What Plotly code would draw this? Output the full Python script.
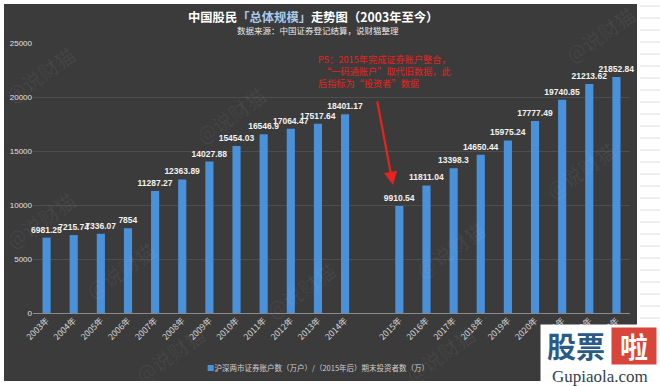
import plotly.graph_objects as go

# ---- data ----
years_before = ["2003年", "2004年", "2005年", "2006年", "2007年", "2008年",
                "2009年", "2010年", "2011年", "2012年", "2013年", "2014年"]
values_before = [6981.25, 7215.74, 7336.07, 7854, 11287.27, 12363.89,
                 14027.88, 15454.03, 16546.9, 17064.47, 17517.64, 18401.17]
years_after = ["2015年", "2016年", "2017年", "2018年", "2019年", "2020年",
               "2021年", "2022年", "2023年"]
values_after = [9910.54, 11811.04, 13398.3, 14650.44, 15975.24, 17777.49,
                19740.85, 21213.62, 21852.84]
y_ticks = [0, 5000, 10000, 15000, 20000, 25000]

categories = years_before + [" "] + years_after
values = values_before + [None] + values_after
labels = [("%.2f" % v).rstrip("0").rstrip(".") if v is not None else "" for v in values]

W, H = 660, 386
ML, MR, MT, MB = 33, 30, 43, 73
PW, PH = W - ML - MR, H - MT - MB


def px(x):
    return (x - ML) / PW


def py(y):
    return (H - MB - y) / PH


FONT = "Liberation Sans, Arial, Noto Sans CJK SC"
CJK = "Noto Sans CJK SC, Liberation Sans"
BLUE = "#4a91dc"

fig = go.Figure()
fig.add_trace(go.Bar(
    x=categories, y=values, width=0.3,
    marker=dict(color=BLUE, line=dict(width=0)),
    text=labels, textposition="outside", constraintext="none",
    textfont=dict(color="#f2f2f2", size=8.5, family=FONT, weight="bold"),
    cliponaxis=False, showlegend=False,
))

shapes = [
    dict(type="rect", xref="paper", yref="paper", layer="below",
         x0=px(4), x1=px(637), y0=py(381), y1=py(4),
         fillcolor="#3b3b3b", line=dict(width=0)),
]
for yy in range(6, 326, 12):
    shapes.append(dict(type="line", xref="paper", yref="paper", layer="below",
                       x0=px(640), x1=px(660), y0=py(yy), y1=py(yy),
                       line=dict(color="#dedede", width=1)))


def ann(x, y, text, **kw):
    d = dict(xref="paper", yref="paper", x=px(x), y=py(y), text=text,
             showarrow=False, xanchor="center", yanchor="middle")
    d.update(kw)
    return d


annotations = []
# faint watermarks
for (wx, wy) in [(40, 75), (120, 270), (230, 115), (300, 290), (450, 250),
                 (600, 35), (580, 170), (170, 355), (40, 220), (440, 355)]:
    annotations.append(ann(wx, wy, "@说财猫", textangle=-35,
                           font=dict(color="rgba(255,255,255,0.06)", size=20, family=CJK)))

annotations += [
    ann(313, 17, "<b>中国股民<span style='color:#a9cbee'>「总体规模」</span>走势图（2003年至今）</b>",
        font=dict(color="white", size=12.3, family=CJK)),
    ann(318, 30, "数据来源：中国证券登记结算，说财猫整理",
        font=dict(color="#e8e8e8", size=8.5, family=CJK)),
    ann(316, 71, "PS：2015年完成证券账户整合，<br>  “一码通账户”取代旧数据，此<br>后指标为“投资者”数据",
        xanchor="left", align="left",
        font=dict(color="#e8231f", size=9.2, family=CJK)),
    dict(xref="paper", yref="paper", x=px(393), y=py(185), text="",
         showarrow=True, ax=-16, ay=-85, arrowcolor="#e8231f",
         arrowwidth=2.2, arrowhead=2, arrowsize=1.2),
    # legend
    ann(205, 367,
        f"<span style='color:{BLUE}'>■</span>沪深两市证券账户数（万户）/（2015年后）期末投资者数（万）",
        xanchor="left", font=dict(color="#cfcfcf", size=7.5, family=CJK)),
    # logo
    ann(600.5, 355.5, " ", width=119, height=61, bgcolor="white", borderpad=0),
    ann(576, 345, "<b>股票</b>", font=dict(color="#2c5a86", size=29, family=CJK)),
    ann(634, 346, "<b>啦</b>", width=44, height=36, bgcolor="#d8453b", borderpad=0,
        font=dict(color="white", size=28, family=CJK)),
    ann(600, 376, "Gupiaola.com",
        font=dict(color="#33414d", size=17, family="Liberation Serif, DejaVu Serif")),
]

fig.update_layout(
    width=W, height=H,
    margin=dict(l=ML, r=MR, t=MT, b=MB, autoexpand=False),
    paper_bgcolor="white", plot_bgcolor="rgba(0,0,0,0)",
    font=dict(family=FONT, color="#dddddd"),
    showlegend=False,
    shapes=shapes, annotations=annotations,
    xaxis=dict(type="category", tickangle=-45, showgrid=False, ticks="",
               tickfont=dict(size=8.5, color="#d8d8d8", family=CJK),
               showline=False, zeroline=False, automargin=False),
    yaxis=dict(range=[0, 25000], tickvals=y_ticks,
               ticktext=[str(t) for t in y_ticks], showgrid=True,
               gridcolor="#4e4e4e", gridwidth=1, zeroline=True,
               zerolinecolor="#8a8a8a", zerolinewidth=1.2,
               tickfont=dict(size=8, color="#e0e0e0"), ticks="",
               automargin=False),
)

fig.write_html("out.html", config={"displayModeBar": False},
               post_script="document.body.style.margin='0';document.body.style.padding='0';document.body.style.overflow='hidden';")
